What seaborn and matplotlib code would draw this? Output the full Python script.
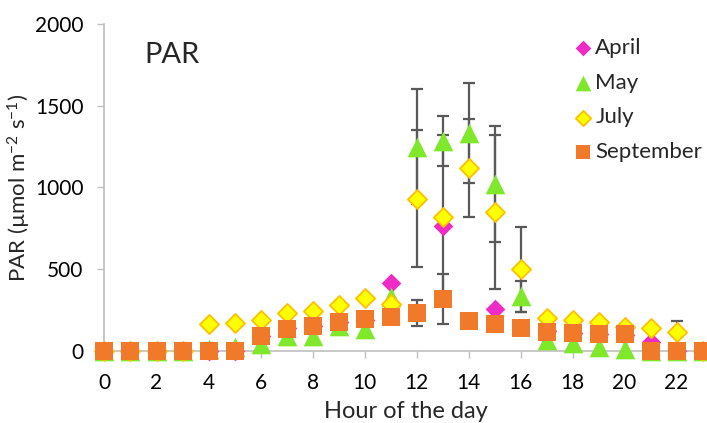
import numpy as np
import pandas as pd
import matplotlib
matplotlib.use("Agg")
import matplotlib.pyplot as plt
import seaborn as sns

hours = list(range(24))

april = [0, 0, 0, 0, 0, 0, 90, 138, 152, 175, 192, 418, 930, 766, 1117, 255,
         500, 122, 110, 104, 100, 55, 0, 0]
may = [0, 0, 0, 0, 10, 26, 42, 92, 92, 153, 136, 332, 1250, 1284, 1335, 1021,
       336, 67, 49, 24, 12, 0, 0, 0]
july = [0, 0, 0, 0, 164, 174, 192, 230, 243, 281, 327, 285, 932, 822, 1117, 852,
        500, 200, 190, 179, 145, 139, 114, 0]
september = [0, 0, 0, 0, 0, 0, 92, 134, 155, 175, 195, 210, 234, 318, 183, 165,
             143, 118, 108, 102, 102, 0, 0, 0]

may_err = [0] * 12 + [350, 155, 306, 355, 95] + [0] * 7
july_err = [0] * 12 + [418, 500, 300, 470, 260] + [0] * 5 + [70, 0]
september_err = [0] * 12 + [80, 153] + [0] * 10

x_ticks = list(range(0, 24, 2))
y_ticks = [0, 500, 1000, 1500, 2000]

sns.set_theme(style="white")
plt.rcParams["font.family"] = ["Lato", "DejaVu Sans"]
plt.rcParams["mathtext.fontset"] = "custom"
plt.rcParams["mathtext.rm"] = "Lato"
plt.rcParams["mathtext.it"] = "Lato"

fig = plt.figure(figsize=(7.07, 4.23), dpi=100)
ax = fig.add_axes([0.1478, 0.1702, 0.8522, 0.7731])

df = pd.DataFrame({"hour": hours, "April": april, "May": may,
                   "July": july, "September": september})

err_color = "#595959"
for vals, errs in [(may, may_err), (july, july_err), (september, september_err)]:
    h = [hr for hr, e in zip(hours, errs) if e > 0]
    v = [val for val, e in zip(vals, errs) if e > 0]
    e = [e for e in errs if e > 0]
    ax.errorbar(h, v, yerr=e, fmt="none", ecolor=err_color, elinewidth=1.6,
                capsize=4.5, capthick=1.6, zorder=1, clip_on=False)

styles = [
    ("April", "D", 100, "#EE2BC4", "#EE2BC4", 0.0),
    ("May", "^", 200, "#80E82A", "#80E82A", 0.0),
    ("July", "D", 95, "#FFFF00", "#FFC000", 1.3),
    ("September", "s", 165, "#F07A2A", "#F07A2A", 0.0),
]
for i, (name, mk, size, fc, ec, lw) in enumerate(styles):
    sns.scatterplot(data=df, x="hour", y=name, marker=mk, s=size, color=fc,
                    edgecolor=ec, linewidth=lw, ax=ax, label=name,
                    zorder=3 + i, clip_on=False)

ax.set_xlim(0, 23.17)
ax.set_ylim(0, 2000)
ax.set_xticks(x_ticks)
ax.set_yticks(y_ticks)
ax.tick_params(axis="both", which="major", labelsize=15, colors="#BFBFBF",
               labelcolor="black", length=5, width=1, direction="out",
               left=True, bottom=True)
ax.tick_params(axis="x", pad=11)
ax.tick_params(axis="y", pad=10)
for side in ["top", "right"]:
    ax.spines[side].set_visible(False)
for side in ["left", "bottom"]:
    ax.spines[side].set_color("#BFBFBF")
    ax.spines[side].set_linewidth(1.2)

ax.set_xlabel("Hour of the day", fontsize=17, va="top")
ax.xaxis.set_label_coords(0.5, -0.152)
ax.set_ylabel(r"PAR (µmol m$^{-2}$ s$^{-1}$)", fontsize=16)
ax.yaxis.set_label_coords(-0.119, 0.5)
ax.text(0.066, 0.944, "PAR", transform=ax.transAxes, fontsize=21,
        ha="left", va="top")

ax.legend(loc="upper left", bbox_to_anchor=(0.795, 0.932),
          bbox_transform=fig.transFigure, frameon=False, fontsize=16,
          handletextpad=0.0, labelspacing=0.67, markerscale=0.8,
          borderaxespad=0, handlelength=1.1)

fig.savefig("out.png", dpi=100)
